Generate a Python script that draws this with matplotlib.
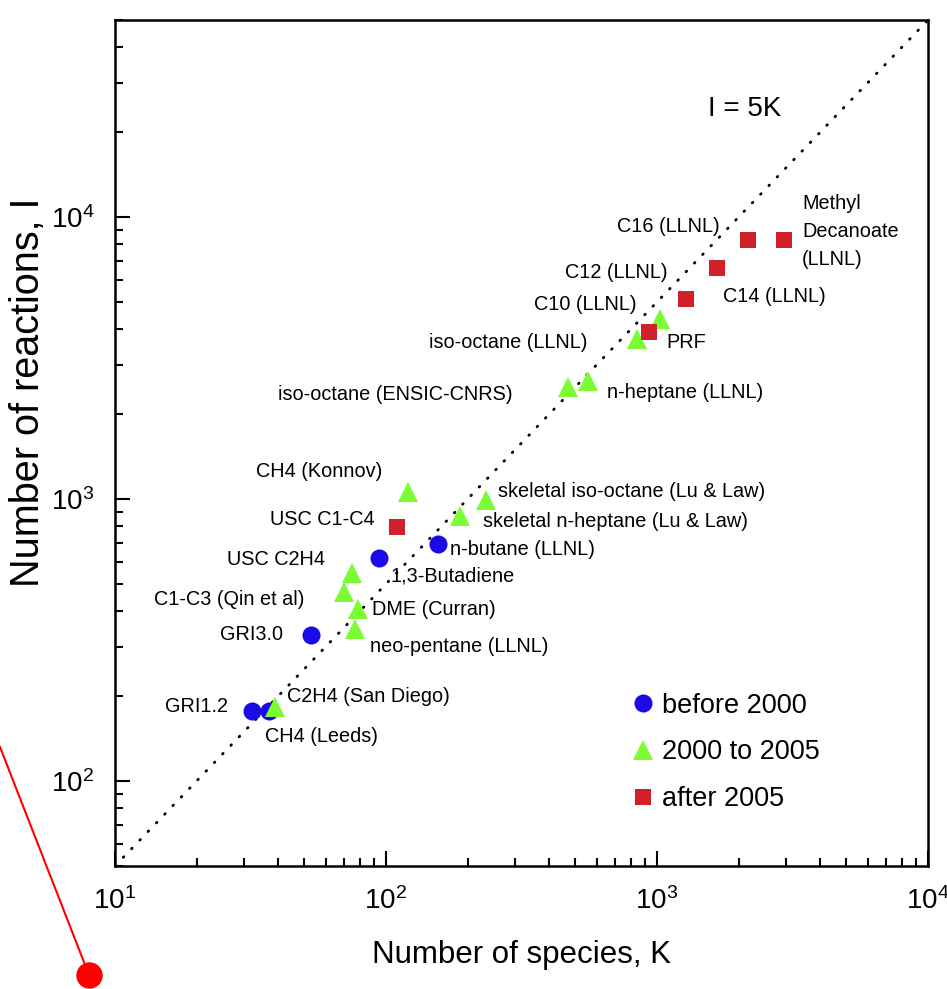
import matplotlib
matplotlib.use('Agg')
import matplotlib.pyplot as plt
from matplotlib.lines import Line2D
from matplotlib.ticker import LogLocator, NullFormatter

plt.rcParams['font.family'] = ['Liberation Sans', 'DejaVu Sans']
plt.rcParams['mathtext.fontset'] = 'custom'
plt.rcParams['mathtext.rm'] = 'Liberation Sans'

# Mechanism sizes: species K, reactions I
k_before = [32, 37, 53, 94, 155]
i_before = [177, 177, 329, 618, 692]

k_mid = [39, 75, 70, 79, 77, 121, 188, 233, 470, 556, 844, 1026]
i_mid = [183, 547, 468, 407, 346, 1059, 871, 990, 2496, 2620, 3693, 4348]

k_after = [110, 934, 1279, 1665, 2167, 2941]
i_after = [795, 3910, 5120, 6595, 8286, 8286]

# I = 5K reference line
k_ref = [10, 10000]
i_ref = [50, 50000]

# label text, anchor (K, I), horizontal alignment
labels = [
    ('GRI1.2', 26.1, 184, 'right'),
    ('CH4 (Leeds)', 35.8, 144, 'left'),
    ('C2H4 (San Diego)', 43.1, 199, 'left'),
    ('GRI3.0', 41.7, 332, 'right'),
    ('neo-pentane (LLNL)', 87.3, 301, 'left'),
    ('DME (Curran)', 88.8, 407, 'left'),
    ('C1-C3 (Qin et al)', 50.2, 442, 'right'),
    ('1,3-Butadiene', 103.5, 533, 'left'),
    ('USC C2H4', 59.5, 613, 'right'),
    ('n-butane (LLNL)', 172, 665, 'left'),
    ('USC C1-C4', 91.1, 849, 'right'),
    ('CH4 (Konnov)', 96.6, 1257, 'right'),
    ('skeletal n-heptane (Lu & Law)', 228, 836, 'left'),
    ('skeletal iso-octane (Lu & Law)', 259, 1068, 'left'),
    ('n-heptane (LLNL)', 654, 2396, 'left'),
    ('iso-octane (ENSIC-CNRS)', 294, 2357, 'right'),
    ('iso-octane (LLNL)', 552, 3603, 'right'),
    ('PRF', 1079, 3603, 'left'),
    ('C10 (LLNL)', 844, 4914, 'right'),
    ('C12 (LLNL)', 1098, 6383, 'right'),
    ('C16 (LLNL)', 1708, 9290, 'right'),
    ('C14 (LLNL)', 1752, 5248, 'left'),
]

blue = '#1a0ae6'
green = '#7cfc32'
red = '#d0202a'

fig = plt.figure(figsize=(9.47, 9.89), dpi=100)
ax = fig.add_axes([0.1214, 0.1244, 0.8586, 0.8554])

ax.plot(k_ref, i_ref, color='black', lw=2.0, linestyle=(0, (0.3, 4.0)),
        dash_capstyle='round')

ax.plot(k_before, i_before, 'o', color=blue, ms=13, mew=0, label='before 2000')
ax.plot(k_mid, i_mid, '^', color=green, ms=14.5, mew=0, label='2000 to 2005')
ax.plot(k_after, i_after, 's', color=red, ms=11, mew=0, label='after 2005')

for txt, x, y, ha in labels:
    ax.text(x, y, txt, fontsize=14.3, ha=ha, va='center')

ax.text(3428, 8922, 'Methyl\nDecanoate\n(LLNL)', fontsize=14.3, ha='left',
        va='center', linespacing=1.6)
ax.text(1543, 24150, 'I = 5K', fontsize=20, ha='left', va='center')

ax.set_xscale('log')
ax.set_yscale('log')
ax.set_xlim(10, 10000)
ax.set_ylim(50, 50000)

ax.xaxis.set_major_locator(LogLocator(base=10, numticks=10))
ax.xaxis.set_minor_locator(LogLocator(base=10, subs=range(2, 10), numticks=20))
ax.yaxis.set_minor_locator(LogLocator(base=10, subs=range(2, 10), numticks=20))
ax.xaxis.set_minor_formatter(NullFormatter())
ax.yaxis.set_minor_formatter(NullFormatter())

for s in ax.spines.values():
    s.set_linewidth(1.8)
ax.tick_params(which='both', direction='in', top=False, right=False, width=1.5)
ax.tick_params(which='major', length=10.5, labelsize=20, pad=15)
ax.tick_params(which='minor', length=6)

ax.set_xlabel('Number of species, K', fontsize=22.5)
ax.set_ylabel('Number of reactions, I', fontsize=28.5)
ax.xaxis.set_label_coords(0.5, -0.088)
ax.yaxis.set_label_coords(-0.083, 0.56)

ax.legend(loc='upper left', bbox_to_anchor=(0.639, 0.205), frameon=False,
          fontsize=19.5, handlelength=0.6, handletextpad=0.4,
          labelspacing=0.77, borderpad=0, borderaxespad=0)

# red pointer drawn across the figure edge
fig.add_artist(Line2D([0.0, 0.094], [1 - 747 / 989, 1 - 975 / 989],
                      transform=fig.transFigure, color='#ff0000', lw=1.5))
fig.add_artist(Line2D([0.094], [1 - 975 / 989], transform=fig.transFigure,
                      marker='o', ms=19, color='#ff0000', mew=0))

fig.savefig('out.png', dpi=100)
